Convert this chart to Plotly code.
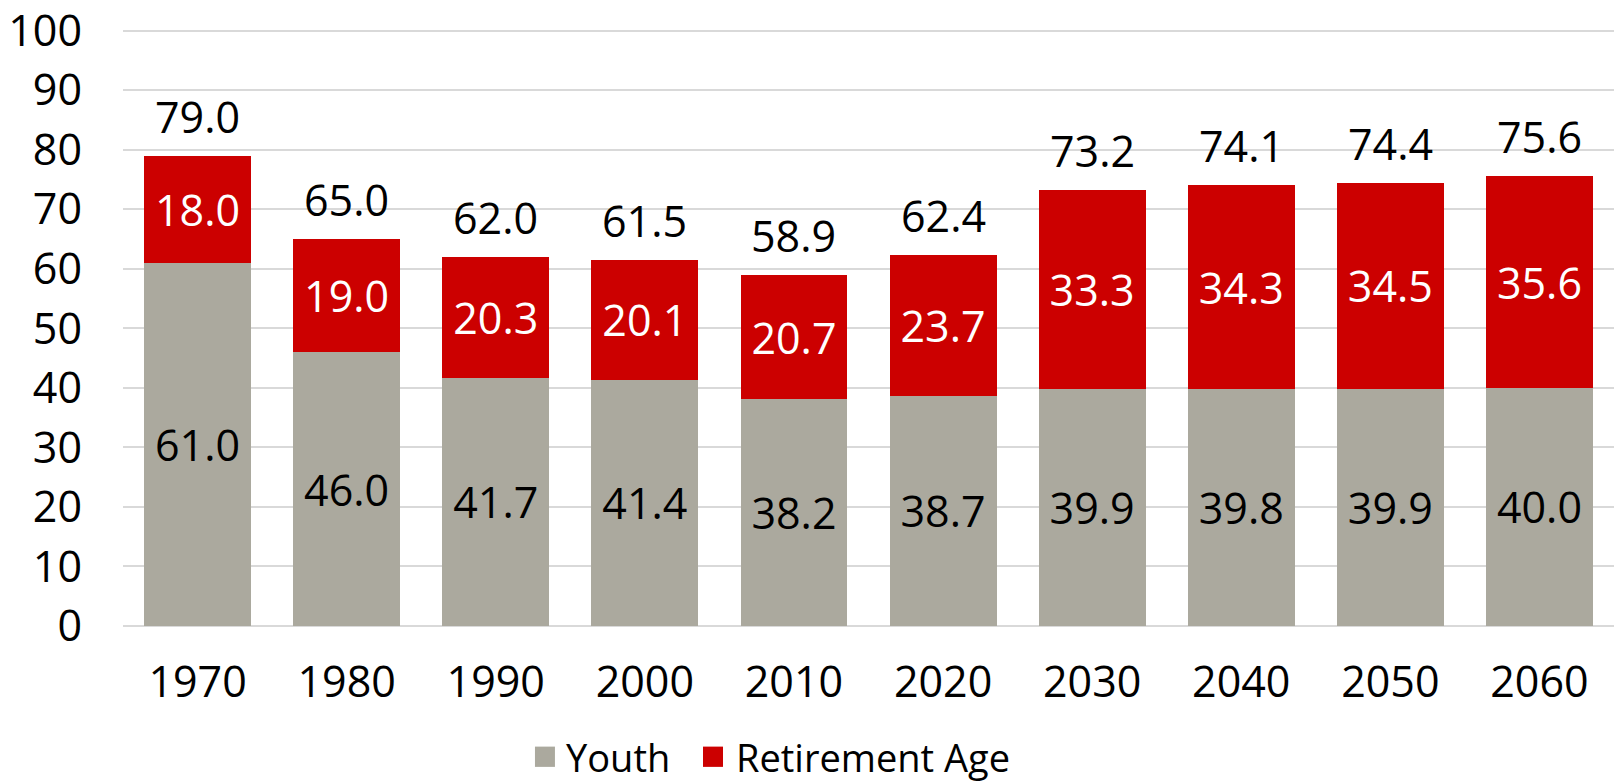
import plotly.graph_objects as go

years = ["1970", "1980", "1990", "2000", "2010", "2020", "2030", "2040", "2050", "2060"]
youth = [61.0, 46.0, 41.7, 41.4, 38.2, 38.7, 39.9, 39.8, 39.9, 40.0]
retirement = [18.0, 19.0, 20.3, 20.1, 20.7, 23.7, 33.3, 34.3, 34.5, 35.6]
totals = [round(a + b, 1) for a, b in zip(youth, retirement)]
series_names = ["Youth", "Retirement Age"]
y_ticks = list(range(0, 101, 10))

GRAY = "#ABA99E"
RED = "#CC0000"
FONT = "Open Sans"
NUM_SIZE = 43

fig = go.Figure()
fig.add_trace(go.Bar(
    x=years, y=youth, name=series_names[0], marker=dict(color=GRAY, line_width=0),
    text=[f"{v:.1f}" for v in youth], textposition="inside",
    insidetextanchor="middle", textangle=0, showlegend=False,
    textfont=dict(color="black", size=NUM_SIZE, family=FONT),
))
fig.add_trace(go.Bar(
    x=years, y=retirement, name=series_names[1], marker=dict(color=RED, line_width=0),
    text=[f"{v:.1f}" for v in retirement], textposition="inside",
    insidetextanchor="middle", textangle=0, showlegend=False,
    textfont=dict(color="white", size=NUM_SIZE, family=FONT),
))

# total labels above each stacked bar (category index positions)
for i, t in enumerate(totals):
    fig.add_annotation(x=i, y=t, xref="x", yref="y", text=f"{t:.1f}",
                       showarrow=False, yanchor="bottom", yshift=8,
                       font=dict(size=NUM_SIZE, family=FONT, color="black"))

# legend below the chart: square swatch + label per series
legend_items = [(series_names[0], GRAY, 0.2763, 0.2964),
                (series_names[1], RED, 0.3890, 0.4105)]
for name, col, sx, tx in legend_items:
    fig.add_shape(type="rect", xref="paper", yref="paper",
                  x0=sx, x1=sx + 0.0134, y0=-0.2321, y1=-0.1987,
                  fillcolor=col, line_width=0)
    fig.add_annotation(xref="paper", yref="paper", x=tx, y=-0.2154,
                       xanchor="left", yanchor="middle", text=name,
                       showarrow=False, borderpad=0,
                       font=dict(size=38, family=FONT, color="black"))

fig.update_layout(
    barmode="stack", bargap=0.283,
    width=1614, height=784,
    margin=dict(l=123, r=0, t=15, b=158),
    plot_bgcolor="white", paper_bgcolor="white",
    font=dict(family=FONT, size=NUM_SIZE, color="black"),
    uniformtext=dict(minsize=10, mode="show"),
    showlegend=False,
)
fig.update_yaxes(range=[0, 102], tickmode="array", tickvals=y_ticks,
                 showgrid=True, gridcolor="#D9D9D9",
                 gridwidth=1.5, zeroline=True, zerolinecolor="#D9D9D9",
                 zerolinewidth=1.5, showline=False, ticks="",
                 ticklabeloverflow="allow",
                 ticklabelstandoff=40, tickfont=dict(size=NUM_SIZE))
fig.update_xaxes(type="category", range=[-0.5, len(years) - 0.5],
                 showline=False, ticks="", tickfont=dict(size=NUM_SIZE),
                 ticklabelstandoff=27)

fig.write_html("out.html")
